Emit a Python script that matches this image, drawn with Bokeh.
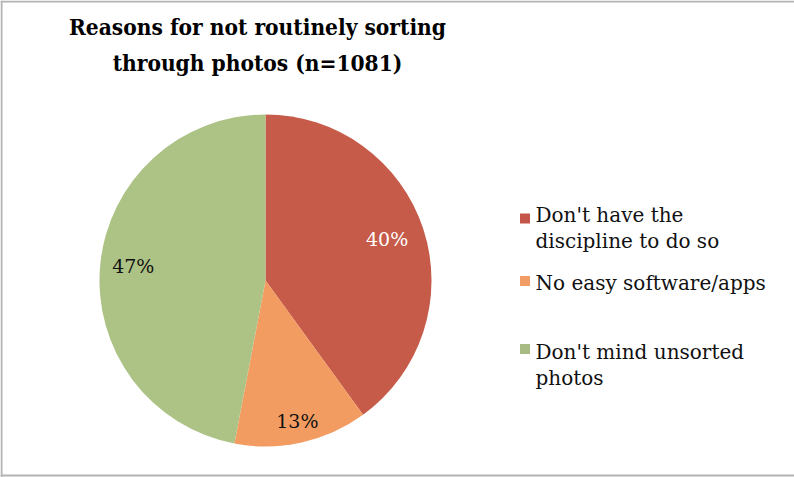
import numpy as np
from bokeh.plotting import figure
from bokeh.models import Range1d, Span, ColumnDataSource
from bokeh.core.properties import value
from bokeh.embed import file_html
from bokeh.resources import INLINE

# ---- data ----
title_lines = ["Reasons for not routinely sorting", "through photos (n=1081)"]
categories = ["Don't have the\ndiscipline to do so", "No easy software/apps", "Don't mind unsorted\nphotos"]
shares = [40, 13, 47]
pct_labels = ["40%", "13%", "47%"]

# ---- style ----
colors = ["#c65b49", "#f29c62", "#adc285"]
legend_colors = ["#c4554b", "#f39d66", "#a9bb84"]
label_colors = ["#ffffff", "#111111", "#111111"]
label_rfrac = [0.77, 0.88, 0.80]

W, H = 794, 477
p = figure(width=W, height=H, x_range=Range1d(0, W), y_range=Range1d(0, H),
           output_backend="svg", toolbar_location=None, min_border=0)
p.axis.visible = False
p.grid.visible = False
p.outline_line_color = None
p.background_fill_color = "white"

cx, cy, R = 265, 197, 166
frac = np.array(shares, dtype=float) / sum(shares)
ends = np.pi / 2 - 2 * np.pi * np.cumsum(frac)
starts = ends + 2 * np.pi * frac
mids = (starts + ends) / 2

src = ColumnDataSource(dict(start=starts, end=ends, color=colors))
p.wedge(x=cx, y=cy, radius=R, start_angle="start", end_angle="end",
        direction="clock", fill_color="color", line_color=None, source=src)

lx = cx + np.array(label_rfrac) * R * np.cos(mids)
ly = cy + np.array(label_rfrac) * R * np.sin(mids)
p.text(x=lx, y=ly + 2, text=pct_labels, text_color=label_colors,
       text_font=value("DejaVu Serif"), text_font_size="19px",
       text_align="center", text_baseline="middle")

# title
p.text(x=[257, 257], y=[451, 415], text=title_lines,
       text_font=value("DejaVu Serif Condensed"), text_font_style="bold",
       text_font_size="22.5px", text_align="center", text_baseline="alphabetic",
       text_color="#000000")

# legend
first_baselines = [263, 195, 126]
sq_y = [259, 196.5, 128.5]
line_gap = 26
sq_x, tx = 524.5, 535
for cat, col, yb, sy in zip(categories, legend_colors, first_baselines, sq_y):
    lines = cat.split("\n")
    p.scatter(x=[sq_x], y=[sy], marker="square", size=10, fill_color=col, line_color=None)
    p.text(x=[tx] * len(lines), y=[yb - i * line_gap for i in range(len(lines))], text=lines,
           text_font=value("DejaVu Serif"), text_font_size="20px",
           text_align="left", text_baseline="alphabetic", text_color="#111111")

# frame
p.add_layout(Span(location=H - 1, dimension="width", line_color="#b4b4b4", line_width=2))
p.add_layout(Span(location=2, dimension="width", line_color="#b4b4b4", line_width=2))
p.add_layout(Span(location=1, dimension="height", line_color="#b4b4b4", line_width=2))

open("out.html", "w").write(file_html(p, INLINE))
